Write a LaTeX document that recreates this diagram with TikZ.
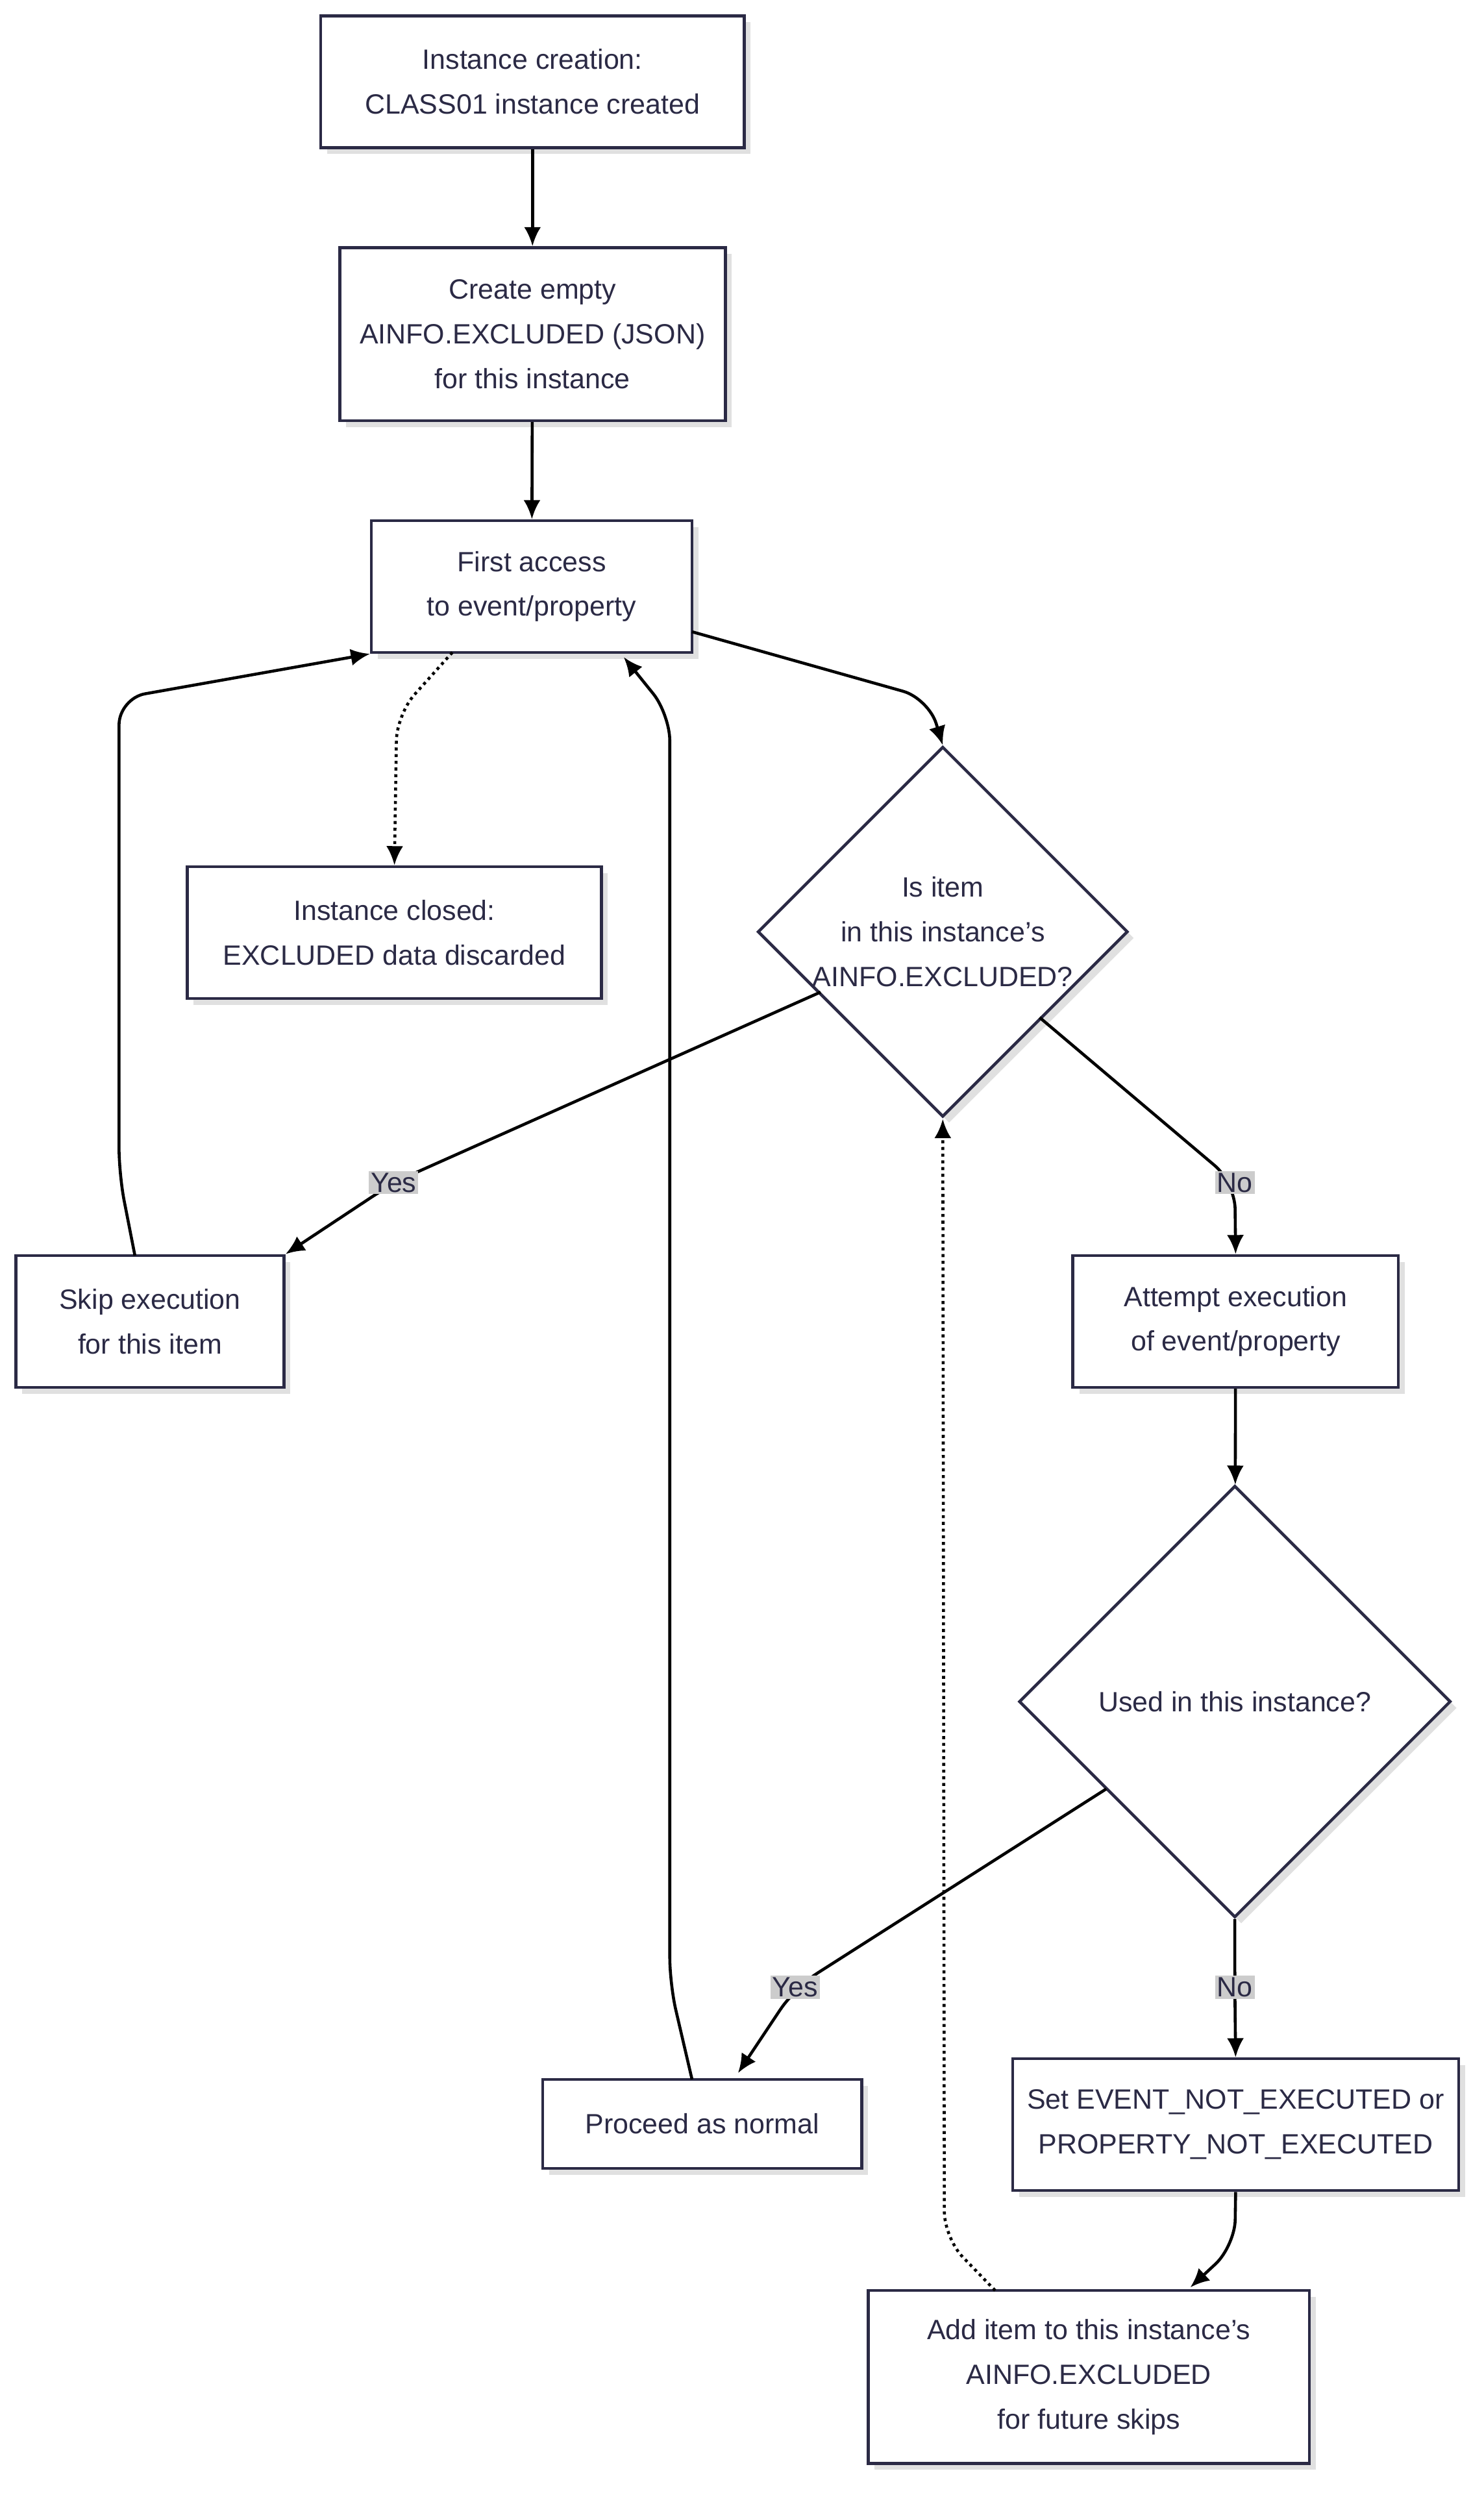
\documentclass[tikz,border=0pt]{standalone}
\usepackage{fontspec}
\setmainfont{Liberation Sans}
\usetikzlibrary{shapes.geometric,arrows.meta,shadows}
\definecolor{ink}{HTML}{2B2A45}
\definecolor{lbl}{HTML}{CCCCCC}
\tikzset{
 box/.style={draw=ink,line width=1.6pt,fill=white,align=center,inner sep=0pt,font=\fontsize{15}{24}\selectfont,text=ink,
   drop shadow={shadow xshift=0.12cm,shadow yshift=-0.12cm,fill=black!12,opacity=1}},
 dia/.style={box,diamond,aspect=1},
 ar/.style={line width=1.6pt,-{Latex[length=0.36cm,width=0.32cm]},rounded corners=0.5cm},
 dot/.style={ar,dotted},
 lab/.style={fill=lbl,inner sep=1pt,font=\fontsize{15}{18}\selectfont,text=ink}
}
\begin{document}
\begin{tikzpicture}[x=0.03cm,y=-0.03cm]
\useasboundingbox (0,0) rectangle (935,1570.6);
\node[box,minimum width=8.01cm,minimum height=2.49cm] (A) at (335.5,51.5) {Instance creation:\\CLASS01 instance created};
\node[box,minimum width=7.29cm,minimum height=3.27cm] (B) at (335.5,210.5) {Create empty\\AINFO.EXCLUDED (JSON)\\for this instance};
\node[box,minimum width=6.06cm,minimum height=2.49cm] (C) at (335,369.5) {First access\\to event/property};
\node[box,minimum width=7.83cm,minimum height=2.49cm] (D) at (248.5,587.5) {Instance closed:\\EXCLUDED data discarded};
\node[dia,minimum width=6.84cm,minimum height=6.84cm] (E) at (594,587) {Is item\\in this instance's\\AINFO.EXCLUDED?};
\node[box,minimum width=5.07cm,minimum height=2.49cm] (F) at (94.5,832.5) {Skip execution\\for this item};
\node[box,minimum width=6.15cm,minimum height=2.49cm] (G) at (778.5,832.5) {Attempt execution\\of event/property};
\node[dia,minimum width=8.16cm,minimum height=8.16cm] (H) at (778,1072) {Used in this instance?};
\node[box,minimum width=6.03cm,minimum height=1.68cm] (I) at (442.5,1338) {Proceed as normal};
\node[box,minimum width=8.43cm,minimum height=2.49cm] (J) at (778.5,1338.5) {Set EVENT\_NOT\_EXECUTED or\\PROPERTY\_NOT\_EXECUTED};
\node[box,minimum width=8.34cm,minimum height=3.27cm] (K) at (686,1497.5) {Add item to this instance's\\AINFO.EXCLUDED\\for future skips};
\coordinate (c1) at (585,440); \coordinate (d1) at (250,450);
\coordinate (y1) at (248,745); \coordinate (n1) at (778,745);
\coordinate (f1) at (75,740); \coordinate (f2) at (75,440);
\coordinate (y2) at (501,1252); \coordinate (n2) at (778,1252);
\coordinate (i1) at (422,1250); \coordinate (i2) at (422,450);
\coordinate (j1) at (778,1415); \coordinate (k1) at (595,1410);
\draw[ar] (A) -- (B);
\draw[ar] (B) -- (C);
\draw[ar] (436,398) -- (c1) -- (E.north);
\draw[dot] (285,411) -- (d1) -- (D.north);
\draw[ar] (517,625) -- (y1) -- (F.north east);
\node[lab] at (y1) {Yes};
\draw[ar] (655,641) -- (n1) -- (G.north);
\node[lab] at (n1) {No};
\draw[ar] (85,791) -- (f1) -- (f2) -- (C.south west);
\draw[ar] (G) -- (H);
\draw[ar] (697,1127) -- (y2) -- (465,1306);
\node[lab] at (y2) {Yes};
\draw[ar] (H.south) -- (n2) -- (J.north);
\node[lab] at (n2) {No};
\draw[ar] (436,1310) -- (i1) -- (i2) -- (393,414);
\draw[ar] (J.south) -- (j1) -- (750,1441);
\draw[dot] (627,1443) -- (k1) -- (594,705);
\end{tikzpicture}
\end{document}
